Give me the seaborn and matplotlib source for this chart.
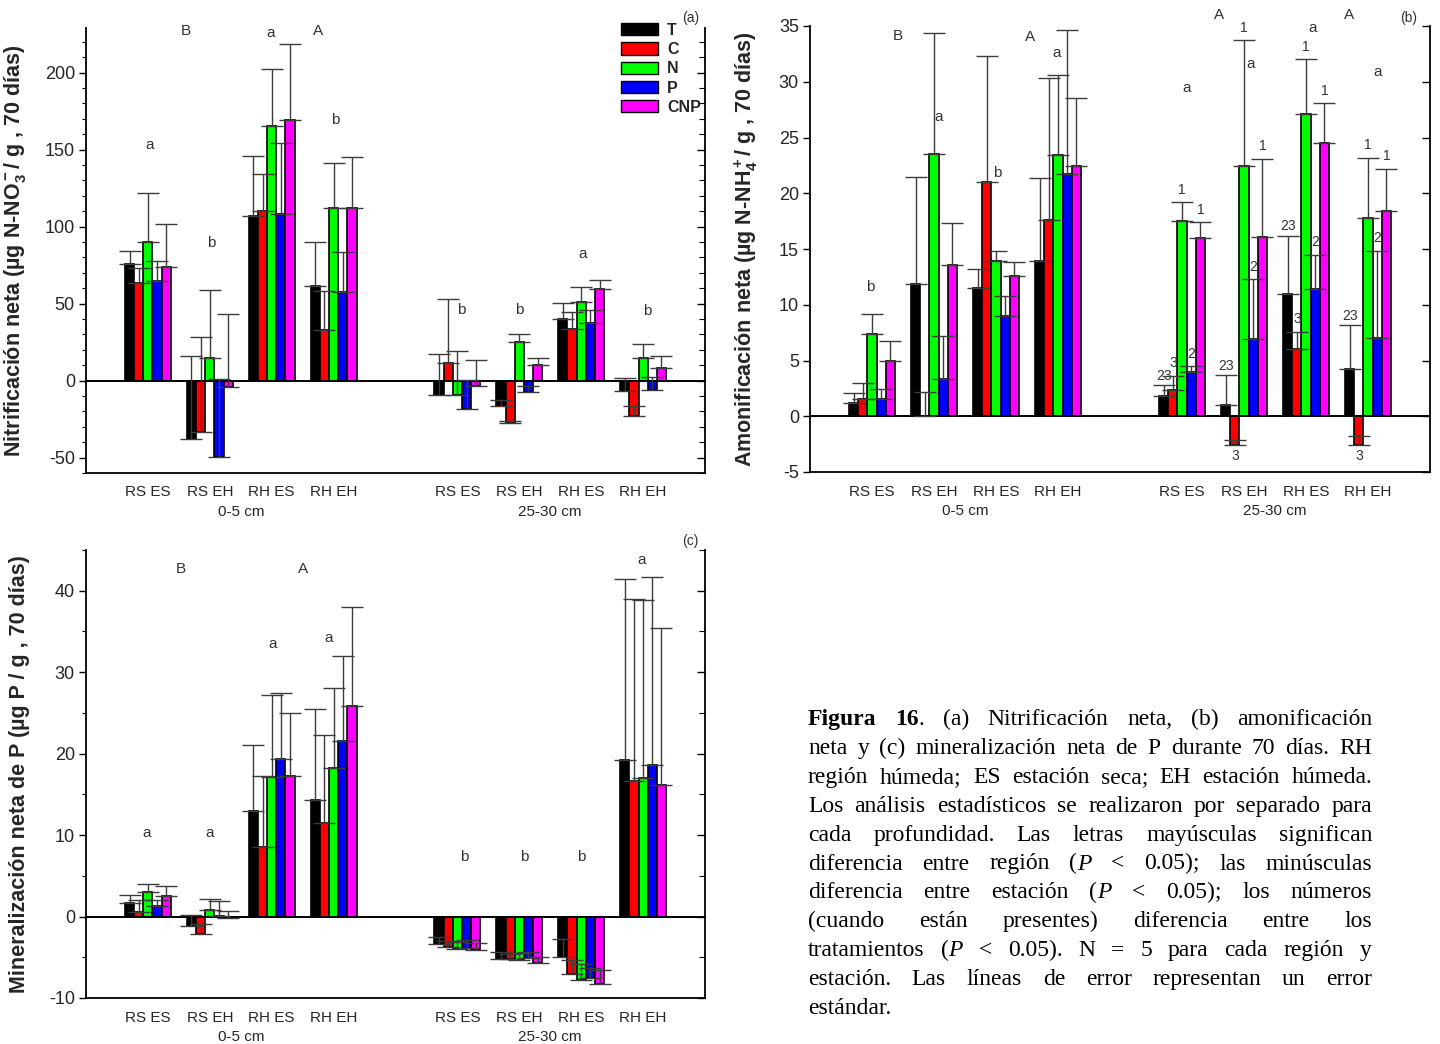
import numpy as np
import pandas as pd
import matplotlib
matplotlib.use("Agg")
import matplotlib.pyplot as plt
import matplotlib.transforms as mtransforms
from matplotlib.ticker import MultipleLocator
from matplotlib.patches import Patch
from matplotlib.font_manager import FontProperties
import seaborn as sns

# ---------------- data ----------------
treatments = ["T", "C", "N", "P", "CNP"]
colors = ["#000000", "#FF0000", "#00FF00", "#0000FF", "#FF00FF"]
groups = ["RS ES", "RS EH", "RH ES", "RH EH", "RS ES", "RS EH", "RH ES", "RH EH"]
positions = [0, 1, 2, 3, 5, 6, 7, 8]
depths = ["0-5 cm", "25-30 cm"]

# (a) Nitrificación neta
nit_T = [76.0, -38.0, 106.7, 61.7, -9.1, -16.5, 40.0, -6.5]
nit_C = [63.2, -33.5, 110.0, 32.9, 11.7, -27.7, 33.8, -22.9]
nit_N = [90.3, 14.7, 165.4, 111.9, -9.5, 24.9, 51.3, 14.7]
nit_P = [64.5, -49.8, 108.4, 57.4, -18.2, -7.6, 37.2, -6.3]
nit_CNP = [73.6, -3.9, 169.5, 111.9, -3.2, 10.2, 59.3, 8.4]
nit_se_T = [8.0, 54.0, 39.2, 28.6, 26.4, 3.9, 10.2, 8.4]
nit_se_C = [9.8, 61.5, 24.4, 25.3, 41.1, 1.5, 10.8, 6.4]
nit_se_N = [31.7, 44.3, 37.0, 29.7, 29.0, 5.4, 9.7, 8.9]
nit_se_P = [13.5, 50.8, 45.7, 25.9, 18.7, 4.1, 8.5, 8.7]
nit_se_CNP = [28.4, 46.9, 49.3, 33.3, 16.4, 4.7, 5.9, 7.8]

# (b) Amonificación neta
amo_T = [1.23, 11.9, 11.49, 13.9, 1.8, 1.05, 11.0, 4.28]
amo_C = [1.53, 0.05, 20.97, 17.6, 2.33, -2.6, 6.0, -2.6]
amo_N = [7.42, 23.5, 13.88, 23.4, 17.5, 22.4, 27.07, 17.8]
amo_P = [1.53, 3.32, 9.03, 21.75, 3.98, 6.9, 11.37, 7.03]
amo_CNP = [4.94, 13.55, 12.56, 22.4, 16.0, 16.1, 24.5, 18.43]
amo_se_T = [0.87, 9.6, 1.76, 7.5, 0.98, 2.65, 5.2, 3.89]
amo_se_C = [1.43, 2.15, 11.33, 12.7, 1.32, 0.45, 1.57, 0.87]
amo_se_N = [1.73, 10.9, 0.9, 7.2, 1.7, 11.3, 4.93, 5.4]
amo_se_P = [0.87, 3.92, 1.71, 12.85, 0.52, 5.4, 3.13, 7.81]
amo_se_CNP = [1.85, 3.75, 1.26, 6.1, 1.4, 7.0, 3.56, 3.74]

# (c) Mineralización neta de P
min_T = [1.64, -1.1, 13.0, 14.3, -3.4, -5.17, -4.92, 19.24]
min_C = [0.53, -2.1, 8.57, 11.5, -3.8, -5.25, -7.1, 16.7]
min_N = [3.04, 0.82, 17.1, 18.2, -4.0, -5.33, -7.84, 17.0]
min_P = [1.27, 0.05, 19.4, 21.5, -3.9, -5.09, -7.5, 18.6]
min_CNP = [2.58, -0.15, 17.2, 25.85, -4.14, -5.66, -8.33, 16.16]
min_se_T = [1.06, 1.35, 8.1, 11.2, 0.94, 0.87, 2.22, 22.16]
min_se_C = [1.52, 1.24, 8.63, 10.8, 0.8, 0.7, 1.73, 22.27]
min_se_N = [0.98, 1.31, 10.1, 9.8, 0.9, 0.83, 1.97, 21.85]
min_se_P = [0.78, 1.8, 8.0, 10.46, 1.03, 0.74, 1.22, 23.04]
min_se_CNP = [1.15, 0.81, 7.8, 12.1, 0.94, 0.74, 1.77, 19.29]

# significance letters (x in group units, y in data units)
letters_a = [(0.62, 227, "B"), (2.75, 227, "A"), (0.02, 153, "a"), (1.02, 89.6, "b"),
             (1.99, 226, "a"), (3.02, 169, "b"), (5.07, 46, "b"), (6.0, 46, "b"),
             (7.03, 82, "a"), (8.06, 45, "b")]
letters_b = [(0.42, 34.1, "B"), (-0.03, 11.6, "b"), (1.08, 26.8, "a"), (2.02, 21.8, "b"),
             (2.55, 34.0, "A"), (2.98, 32.6, "a"), (5.6, 36.0, "A"), (5.08, 29.4, "a"),
             (6.1, 31.6, "a"), (7.1, 34.8, "a"), (7.7, 36.0, "A"), (8.15, 30.9, "a")]
letters_c = [(0.53, 42.7, "B"), (2.5, 42.7, "A"), (-0.02, 10.2, "a"), (1.0, 10.3, "a"),
             (2.02, 33.5, "a"), (2.92, 34.2, "a"), (5.11, 7.3, "b"), (6.08, 7.3, "b"),
             (7.0, 7.3, "b"), (7.97, 43.8, "a")]
trt_numbers_b = ["23", "3", "1", "2", "1"]   # shown on the 25-30 cm groups of (b)

caption_lines = [
    "*Figura* *16*. (a) Nitrificación neta, (b) amonificación",
    "neta y (c) mineralización neta de P durante 70 días. RH",
    "región húmeda; ES estación seca; EH estación húmeda.",
    "Los análisis estadísticos se realizaron por separado para",
    "cada profundidad. Las letras mayúsculas significan",
    "diferencia entre región (_P_ < 0.05); las minúsculas",
    "diferencia entre estación (_P_ < 0.05); los números",
    "(cuando están presentes) diferencia entre los",
    "tratamientos (_P_ < 0.05). N = 5 para cada región y",
    "estación. Las líneas de error representan un error",
    "estándar.",
]

# ---------------- style ----------------
sns.set_theme(style="ticks")
plt.rcParams["font.family"] = ["Liberation Sans", "DejaVu Sans"]
plt.rcParams["axes.unicode_minus"] = False
plt.rcParams["mathtext.fontset"] = "custom"
plt.rcParams["mathtext.rm"] = "Liberation Sans:bold"
plt.rcParams["mathtext.it"] = "Liberation Sans:bold"
plt.rcParams["mathtext.bf"] = "Liberation Sans:bold"
plt.rcParams["mathtext.default"] = "rm"

W, H = 1440, 1044
fig = plt.figure(figsize=(W / 100, H / 100), dpi=100)


def add_ax(l, t, r, b):
    return fig.add_axes([l / W, 1 - b / H, (r - l) / W, (b - t) / H])


axA = add_ax(86, 28, 705, 473)
axB = add_ax(810, 26, 1430, 472)
axC = add_ax(86, 550, 705, 998)

ANN = "#333333"
NUM_OFFSET = [0.2, 0.5, 0.5, 0.5, 0.5]


def panel(ax, means, ses, ylim, major, minor, ylabel, label_x, letters, tag, tag_xy,
          numbers=None):
    rows = []
    for t, m in zip(treatments, means):
        for g, p, v in zip(groups, positions, m):
            rows.append({"pos": p, "value": v, "trt": t})
    df = pd.DataFrame(rows)
    sns.barplot(data=df, x="pos", y="value", hue="trt", hue_order=treatments,
                palette=colors, native_scale=True, width=0.74, errorbar=None,
                edgecolor="black", linewidth=1.2, saturation=1, legend=False, ax=ax)
    bar_containers = list(ax.containers)
    # one-sided error bars (upwards), as in the original
    for i, cont in enumerate(bar_containers):
        for bar in cont:
            xc = bar.get_x() + bar.get_width() / 2
            k = positions.index(int(round(xc)))
            m = means[i][k]
            s = ses[i][k]
            ax.errorbar(xc, m, yerr=[[0], [s]], fmt="none", ecolor="#3c3c3c",
                        elinewidth=1.0, capsize=8, capthick=1.0, zorder=3)
            if numbers is not None and k >= 4:
                if m >= 0:
                    ax.text(xc, m + s + NUM_OFFSET[i], numbers[i], ha="center",
                            va="bottom", fontsize=10, color=ANN)
                else:
                    ax.text(xc, m - 0.35, numbers[i], ha="center", va="top",
                            fontsize=10, color=ANN)
    ax.axhline(0, color="black", lw=1.4, zorder=2.5)
    ax.set_xlim(-1, 9)
    ax.set_ylim(*ylim)
    ax.yaxis.set_major_locator(MultipleLocator(major))
    if minor:
        ax.yaxis.set_minor_locator(MultipleLocator(minor))
    ax.tick_params(axis="y", which="major", direction="out", length=5, width=1,
                   labelsize=13, color="black", pad=3)
    ax.tick_params(axis="y", which="minor", direction="out", length=3, width=0.8,
                   color="black")
    ax.set_xticks(positions)
    ax.set_xticklabels(groups, fontsize=11)
    ax.tick_params(axis="x", length=0, pad=9)
    ax.set_xlabel("")
    trans = mtransforms.blended_transform_factory(ax.transData, ax.transAxes)
    ax.text(1.5, -0.088, depths[0], transform=trans, ha="center", va="center", fontsize=11)
    ax.text(6.5, -0.088, depths[1], transform=trans, ha="center", va="center", fontsize=11)
    for side in ["top", "right"]:
        ax.spines[side].set_visible(False)
    for side in ["left", "bottom"]:
        ax.spines[side].set_linewidth(1.3)
        ax.spines[side].set_color("black")
    sec = ax.secondary_yaxis("right")
    sec.yaxis.set_major_locator(MultipleLocator(major))
    sec.yaxis.set_minor_locator(MultipleLocator(minor if minor else major))
    sec.tick_params(which="both", direction="in", labelright=False, labelleft=False,
                    color="black")
    sec.tick_params(which="major", length=6, width=1)
    sec.tick_params(which="minor", length=4, width=0.8)
    sec.spines["right"].set_linewidth(1.3)
    sec.spines["right"].set_color("black")
    ax.set_ylabel(ylabel, fontsize=15.5, fontweight="bold")
    ax.yaxis.set_label_coords(label_x, 0.5)
    for x, y, s in letters:
        ax.text(x, y, s, ha="center", va="center", fontsize=11, color=ANN)
    ax.text(tag_xy[0], tag_xy[1], tag, transform=ax.transAxes, ha="center",
            va="center", fontsize=10, color=ANN)


panel(axA, [nit_T, nit_C, nit_N, nit_P, nit_CNP],
      [nit_se_T, nit_se_C, nit_se_N, nit_se_P, nit_se_CNP],
      (-60, 229), 50, 10,
      r"Nitrificación neta (µg N-NO$_3^-$/ g , 70 días)", -0.094,
      letters_a, "(a)", (0.977, 1.022))
panel(axB, [amo_T, amo_C, amo_N, amo_P, amo_CNP],
      [amo_se_T, amo_se_C, amo_se_N, amo_se_P, amo_se_CNP],
      (-5, 35), 5, None,
      r"Amonificación neta (µg N-NH$_4^+$/ g , 70 días)", -0.081,
      letters_b, "(b)", (0.966, 1.018), numbers=trt_numbers_b)
panel(axC, [min_T, min_C, min_N, min_P, min_CNP],
      [min_se_T, min_se_C, min_se_N, min_se_P, min_se_CNP],
      (-10, 45), 10, 5,
      "Mineralización neta de P (µg P / g , 70 días)", -0.091,
      letters_c, "(c)", (0.976, 1.02))

handles = [Patch(facecolor=c, edgecolor="black", linewidth=1.0) for c in colors]
axA.legend(handles, treatments, loc="upper left", bbox_to_anchor=(0.865, 1.012),
           frameon=False, prop={"weight": "bold", "size": 11.5}, handlelength=2.3,
           handleheight=0.8, handletextpad=0.55, labelspacing=0.27, borderaxespad=0,
           borderpad=0)


# ---------------- caption (justified) ----------------
def parse_words(line):
    words = []
    bold = italic = False
    for w in line.split(" "):
        segs = []
        cur = ""
        for ch in w:
            if ch in "*_":
                if cur:
                    segs.append((cur, bold, italic))
                    cur = ""
                if ch == "*":
                    bold = not bold
                else:
                    italic = not italic
            else:
                cur += ch
        if cur:
            segs.append((cur, bold, italic))
        words.append(segs)
    return words


renderer = fig.canvas.get_renderer()
cap_size = 17
x_left, x_right = 808, 1372
base0, dy = 725, 28.9


def fp(bold, italic):
    return FontProperties(family="Liberation Serif", size=cap_size,
                          weight="bold" if bold else "normal",
                          style="italic" if italic else "normal")


def tw(s, prop):
    return renderer.get_text_width_height_descent(s, prop, ismath=False)[0]


space_w = tw("a a", fp(False, False)) - tw("aa", fp(False, False))

for li, line in enumerate(caption_lines):
    words = parse_words(line)
    wwidths = [sum(tw(s, fp(b, it)) for s, b, it in segs) for segs in words]
    last = li == len(caption_lines) - 1
    if last or len(words) == 1:
        gap = space_w
    else:
        gap = (x_right - x_left - sum(wwidths)) / (len(words) - 1)
    x = x_left
    y = base0 + dy * li
    for segs, ww in zip(words, wwidths):
        xs = x
        for s, b, it in segs:
            fig.text(xs / W, 1 - y / H, s, fontproperties=fp(b, it), ha="left",
                     va="baseline", color="black")
            xs += tw(s, fp(b, it))
        x += ww + gap

fig.savefig("out.png", dpi=100)
